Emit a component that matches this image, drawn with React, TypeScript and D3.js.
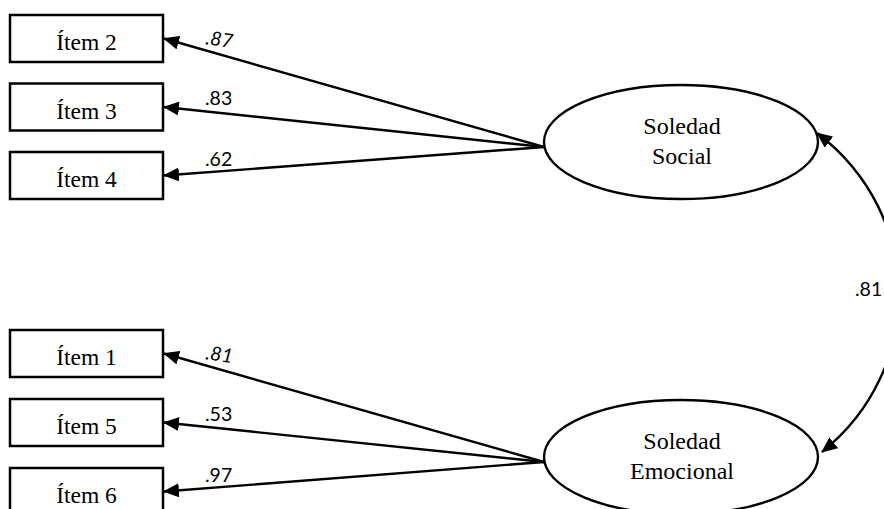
import * as d3 from "d3";
import React from "react";

// measurement model: two latent factors, three indicators each
const socialItems = ["Ítem 2", "Ítem 3", "Ítem 4"];
const socialLoadings = [".87", ".83", ".62"];
const emotionalItems = ["Ítem 1", "Ítem 5", "Ítem 6"];
const emotionalLoadings = [".81", ".53", ".97"];
const italicLoadings = [".87", ".81"];
const factorNames = [
  ["Soledad", "Social"],
  ["Soledad", "Emocional"],
];
const factorCorrelation = ".81";

const width = 884;
const height = 509;

const boxX = 10;
const boxW = 153;
const boxH = 47;
const ellCx = 681;
const ellRx = 137;
const ellRy = 57;

const groups = [
  { items: socialItems, loadings: socialLoadings, names: factorNames[0], y: d3.scaleLinear().domain([0, 2]).range([15, 152]), cy: 142 },
  { items: emotionalItems, loadings: emotionalLoadings, names: factorNames[1], y: d3.scaleLinear().domain([0, 2]).range([330, 468]), cy: 457 },
];

const serif = "'Liberation Serif', 'Times New Roman', serif";
const sans = "Lato, Carlito, Calibri, sans-serif";

const App: React.FC = () => {
  const ox = ellCx - ellRx;

  // double-headed curved arrow between the two factors
  const corr = d3.path();
  corr.moveTo(817, groups[0].cy - 9);
  corr.bezierCurveTo(925, 215, 925, 370, 822, groups[1].cy - 5);

  return (
    <svg width={width} height={height} style={{ position: "absolute", left: 0, top: 0, background: "#fff" }}>
      <defs>
        <marker id="head" viewBox="0 0 16 14" refX="15" refY="7" markerWidth="16" markerHeight="14"
          markerUnits="userSpaceOnUse" orient="auto-start-reverse">
          <path d="M0,0 L16,7 L0,14 z" fill="#000" />
        </marker>
      </defs>

      {groups.map((g, gi) => {
        const oy = g.cy + 5;
        return (
          <g key={gi}>
            {g.items.map((item, i) => {
              const by = g.y(i);
              const tipX = boxX + boxW + 1;
              const tipY = by + boxH / 2;
              const line = d3.interpolateArray([tipX, tipY], [ox, oy]);
              const lx = 205;
              const ly = line((lx - tipX) / (ox - tipX))[1] - 6;
              const italic = italicLoadings.includes(g.loadings[i]);
              return (
                <g key={item}>
                  <rect x={boxX} y={by} width={boxW} height={boxH} fill="#fff" stroke="#000" strokeWidth={2.5} />
                  <text x={boxX + boxW / 2} y={by + 35} textAnchor="middle" fontFamily={serif} fontSize={23.5}>
                    {item}
                  </text>
                  <line x1={ox} y1={oy} x2={tipX} y2={tipY} stroke="#000" strokeWidth={2.4} markerEnd="url(#head)" />
                  <text x={lx} y={ly} fontFamily={sans} fontSize={19.5} fontStyle={italic ? "italic" : "normal"}
                    transform={italic ? `rotate(8 ${lx} ${ly})` : undefined}>
                    {g.loadings[i]}
                  </text>
                </g>
              );
            })}
            <ellipse cx={ellCx} cy={g.cy} rx={ellRx} ry={ellRy} fill="#fff" stroke="#000" strokeWidth={2.4} />
            <text x={ellCx + 1} y={g.cy - 8} textAnchor="middle" fontFamily={serif} fontSize={24}>{g.names[0]}</text>
            <text x={ellCx + 1} y={g.cy + 22} textAnchor="middle" fontFamily={serif} fontSize={24}>{g.names[1]}</text>
          </g>
        );
      })}

      <path d={corr.toString()} fill="none" stroke="#000" strokeWidth={2.4} markerStart="url(#head)" markerEnd="url(#head)" />
      <text x={855} y={296} fontFamily={sans} fontSize={19.5}>{factorCorrelation}</text>
    </svg>
  );
};

export default App;
